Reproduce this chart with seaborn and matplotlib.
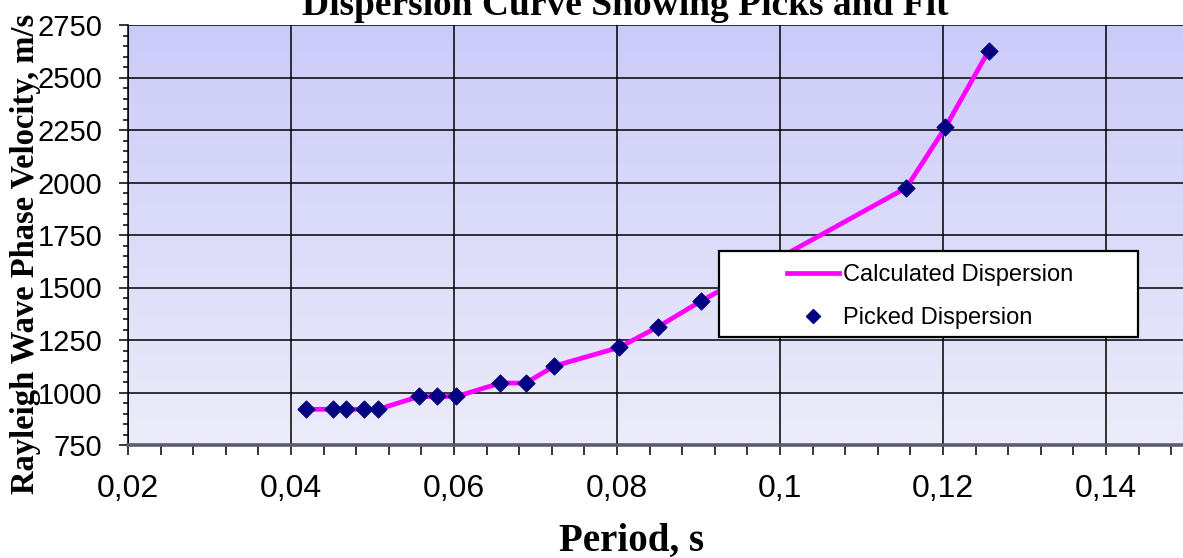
import numpy as np
import matplotlib
matplotlib.use("Agg")
import matplotlib.pyplot as plt
import seaborn as sns
from matplotlib.lines import Line2D
from matplotlib.patches import Rectangle
from matplotlib.ticker import MultipleLocator
from matplotlib.colors import LinearSegmentedColormap

# ---- data ----
period = [0.0419, 0.0451, 0.0467, 0.0490, 0.0507, 0.0557, 0.0579, 0.0603,
          0.0657, 0.0688, 0.0723, 0.0803, 0.0850, 0.0903, 0.1155, 0.1203, 0.1256]
velocity = [920, 920, 920, 920, 920, 981, 981, 981,
            1045, 1045, 1126, 1215, 1312, 1435, 1975, 2263, 2627]

xticks = [0.02, 0.04, 0.06, 0.08, 0.10, 0.12, 0.14]
xtick_labels = ["0,02", "0,04", "0,06", "0,08", "0,1", "0,12", "0,14"]
yticks = [750, 1000, 1250, 1500, 1750, 2000, 2250, 2500, 2750]
ytick_labels = [str(v) for v in yticks]

title = "Dispersion Curve Showing Picks and Fit"
xlabel = "Period, s"
ylabel = "Rayleigh Wave Phase Velocity, m/s"
series_names = ["Calculated Dispersion", "Picked Dispersion"]

W, H = 1183, 558
fig = plt.figure(figsize=(W / 100, H / 100), dpi=100)
fig.patch.set_facecolor("white")

def fx(px):
    return px / W

def fy(py):
    return 1 - py / H

ax_left, ax_top, ax_bottom = 128, 25, 445
px_per_unit = 163.0 / 0.02
ax_right = ax_left + (0.15 - 0.02) * px_per_unit
ax = fig.add_axes([fx(ax_left), fy(ax_bottom), (ax_right - ax_left) / W,
                   (ax_bottom - ax_top) / H])

# gradient background
cmap = LinearSegmentedColormap.from_list("bg", ["#ECECFA", "#CBCBF9"])
grad = np.linspace(0, 1, 256).reshape(-1, 1)
ax.imshow(grad, extent=[0, 1, 0, 1], transform=ax.transAxes, aspect="auto",
          cmap=cmap, origin="lower", zorder=-2, interpolation="bilinear")

sns.lineplot(x=period, y=velocity, ax=ax, color="#FF00FF", linewidth=3.4,
             zorder=2, legend=False)
sns.scatterplot(x=period, y=velocity, ax=ax, marker="D", color="#000080",
                s=78, edgecolor="#000080", linewidth=0.6, zorder=3, legend=False)

ax.set_xlim(0.02, 0.15)
ax.set_ylim(750, 2750)

sans = ["Liberation Sans", "DejaVu Sans"]
ax.set_xticks(xticks)
ax.set_xticklabels(xtick_labels, fontsize=23, family=sans)
ax.set_yticks(yticks)
ax.set_yticklabels(ytick_labels, fontsize=21, family=sans)
ax.xaxis.set_minor_locator(MultipleLocator(0.004))
ax.yaxis.set_minor_locator(MultipleLocator(50))
ax.tick_params(axis="x", which="both", direction="out", length=7, width=1.1,
               pad=14, color="black")
ax.tick_params(axis="y", which="major", direction="out", length=6.5, width=1.1,
               pad=12, color="black")
ax.tick_params(axis="y", which="minor", direction="out", length=3.6, width=1.1,
               color="black")

ax.set_axisbelow(True)
ax.grid(True, which="major", color="black", linewidth=1.1)
ax.grid(False, which="minor")

for side in ["top", "right"]:
    ax.spines[side].set_visible(False)
ax.spines["left"].set_color("black")
ax.spines["left"].set_linewidth(1.1)
ax.spines["bottom"].set_color("#5c5c70")
ax.spines["bottom"].set_linewidth(2.6)
ax.set_xlabel("")
ax.set_ylabel("")

# legend box
box = Rectangle((fx(719), fy(337)), (1138 - 719) / W, (337 - 251) / H,
                transform=fig.transFigure, facecolor="white", edgecolor="black",
                linewidth=1.6, zorder=4, clip_on=False)
ax.add_patch(box)
handles = [Line2D([], [], color="#FF00FF", linewidth=3.4),
           Line2D([], [], color="#000080", marker="D", linestyle="none",
                  markersize=7.5)]
leg = ax.legend(handles, series_names, loc="upper left",
                bbox_to_anchor=(fx(775), fy(252)), bbox_transform=fig.transFigure,
                frameon=False, borderpad=0, handlelength=2.2,
                handletextpad=0.2, labelspacing=0.9, numpoints=1,
                prop={"family": "Liberation Sans", "size": 17})
leg.set_zorder(5)

serif = ["Liberation Serif", "DejaVu Serif"]
fig.text(fx(625), fy(15), title, ha="center", va="baseline", fontsize=27,
         fontweight="bold", family=serif)
fig.text(fx(632), fy(551), xlabel, ha="center", va="baseline", fontsize=28,
         fontweight="bold", family=serif)
fig.text(fx(26), fy(254), ylabel, ha="center", va="center", rotation=90,
         fontsize=23.5, fontweight="bold", family=serif)

fig.savefig("out.png", dpi=100)
